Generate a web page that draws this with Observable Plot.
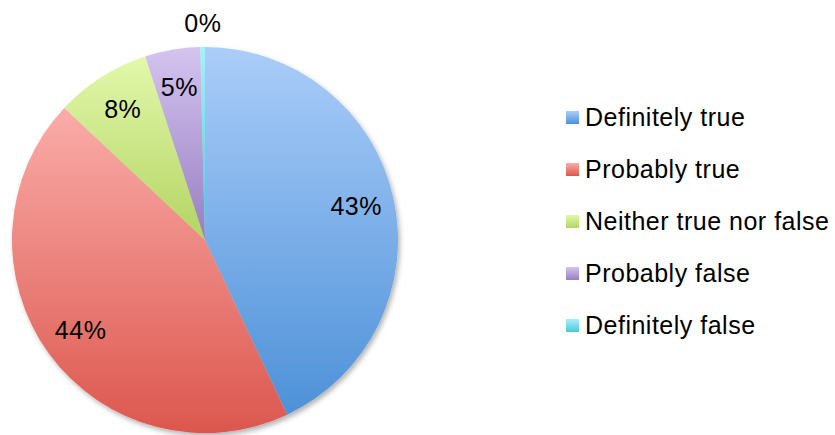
<!DOCTYPE html>
<html><head><meta charset="utf-8">
<script src="https://cdn.jsdelivr.net/npm/d3@7"></script>
<script src="https://cdn.jsdelivr.net/npm/@observablehq/plot@0.6"></script>
<style>
body{margin:0;background:#fff;}
#chart{position:relative;width:835px;height:435px;overflow:hidden;font-family:"Liberation Sans",Arial,sans-serif;}
#legend{position:absolute;left:566px;top:91px;}
#legend [class$="-swatches"]{margin:0;}
#legend [class$="-swatch"]{height:52px;padding:0;}
#legend [class$="-swatch"] > svg{margin-right:6px;}
</style></head><body><div id="chart"></div><div></div>
<script>
const categories = ["Definitely true","Probably true","Neither true nor false","Probably false","Definitely false"];
const values = [43, 44, 8, 4.6, 0.4];
const colorsTop = ["#abcdf9","#faaca9","#e2f8ab","#d4c4ef","#a8f0fa"];
const colorsBottom = ["#4d91d8","#dc574e","#b4d463","#987dc2","#4cc8de"];
const colorsMid = ["#7cafe9","#eb827c","#cbe687","#b6a0d8","#7adcec"];

const pie = d3.pie().sort(null).value(d => d.value);
const slices = pie(categories.map((c, i) => ({category: c, value: values[i], i})))
  .map(s => {
    const mid = (s.startAngle + s.endAngle) / 2;
    const outside = s.data.value < 1;
    const rl = outside ? 1.12 : 0.8;
    return {
      category: s.data.category,
      value: s.data.value,
      i: s.data.i,
      startAngle: s.startAngle,
      endAngle: s.endAngle,
      lx: rl * Math.sin(mid),
      ly: rl * Math.cos(mid),
      label: Math.round(s.data.value) + "%"
    };
  });

function pieRender(index, scales, vals, dimensions, context) {
  const cx = scales.x(0), cy = scales.y(0);
  const r = scales.x(1) - scales.x(0);
  const g = d3.create("svg:g");
  const defs = g.append("defs");
  slices.forEach((s, i) => {
    const lg = defs.append("linearGradient").attr("id", "grad-" + i)
      .attr("x1", 0).attr("y1", 0).attr("x2", 0).attr("y2", 1);
    lg.append("stop").attr("offset", "0%").attr("stop-color", colorsTop[i]);
    lg.append("stop").attr("offset", "100%").attr("stop-color", colorsBottom[i]);
  });
  const f = defs.append("filter").attr("id", "pieShadow")
    .attr("x", "-10%").attr("y", "-10%").attr("width", "125%").attr("height", "125%");
  f.append("feDropShadow").attr("dx", 2).attr("dy", 3).attr("stdDeviation", 2.5)
    .attr("flood-color", "#000").attr("flood-opacity", 0.3);
  const arc = d3.arc().innerRadius(0).outerRadius(r);
  const pg = g.append("g").attr("transform", `translate(${cx},${cy})`).attr("filter", "url(#pieShadow)");
  for (const i of index) {
    const s = slices[i];
    pg.append("path")
      .attr("d", arc({startAngle: s.startAngle, endAngle: s.endAngle}))
      .attr("fill", `url(#grad-${i})`);
  }
  return g.node();
}

const chart = Plot.plot({
  width: 835,
  height: 435,
  margin: 0,
  style: {fontFamily: "'Liberation Sans', Arial, sans-serif", letterSpacing: "0.5px", background: "transparent"},
  x: {domain: [-1, 1], range: [12, 398], axis: null},
  y: {domain: [-1, 1], range: [433, 47], axis: null},
  color: {domain: categories, range: colorsMid},
  marks: [
    Plot.dot(slices, {x: d => 0, y: d => 0, fill: "category", render: pieRender}),
    Plot.text(slices, {x: "lx", y: "ly", text: "label", fontSize: 25, fill: "#000"})
  ]
});

const root = document.getElementById("chart");
root.appendChild(chart);

const legend = chart.legend("color", {
  legend: "swatches",
  columns: 1,
  swatchWidth: 13,
  swatchHeight: 13,
  style: {fontSize: "25px", fontFamily: "'Liberation Sans', Arial, sans-serif", color: "#000", letterSpacing: "0.5px"}
});
const lwrap = document.createElement("div");
lwrap.id = "legend";
lwrap.appendChild(legend);
root.appendChild(lwrap);
legend.querySelectorAll("svg").forEach((s, i) => s.setAttribute("fill", `url(#grad-${i})`));
</script>
</body></html>
